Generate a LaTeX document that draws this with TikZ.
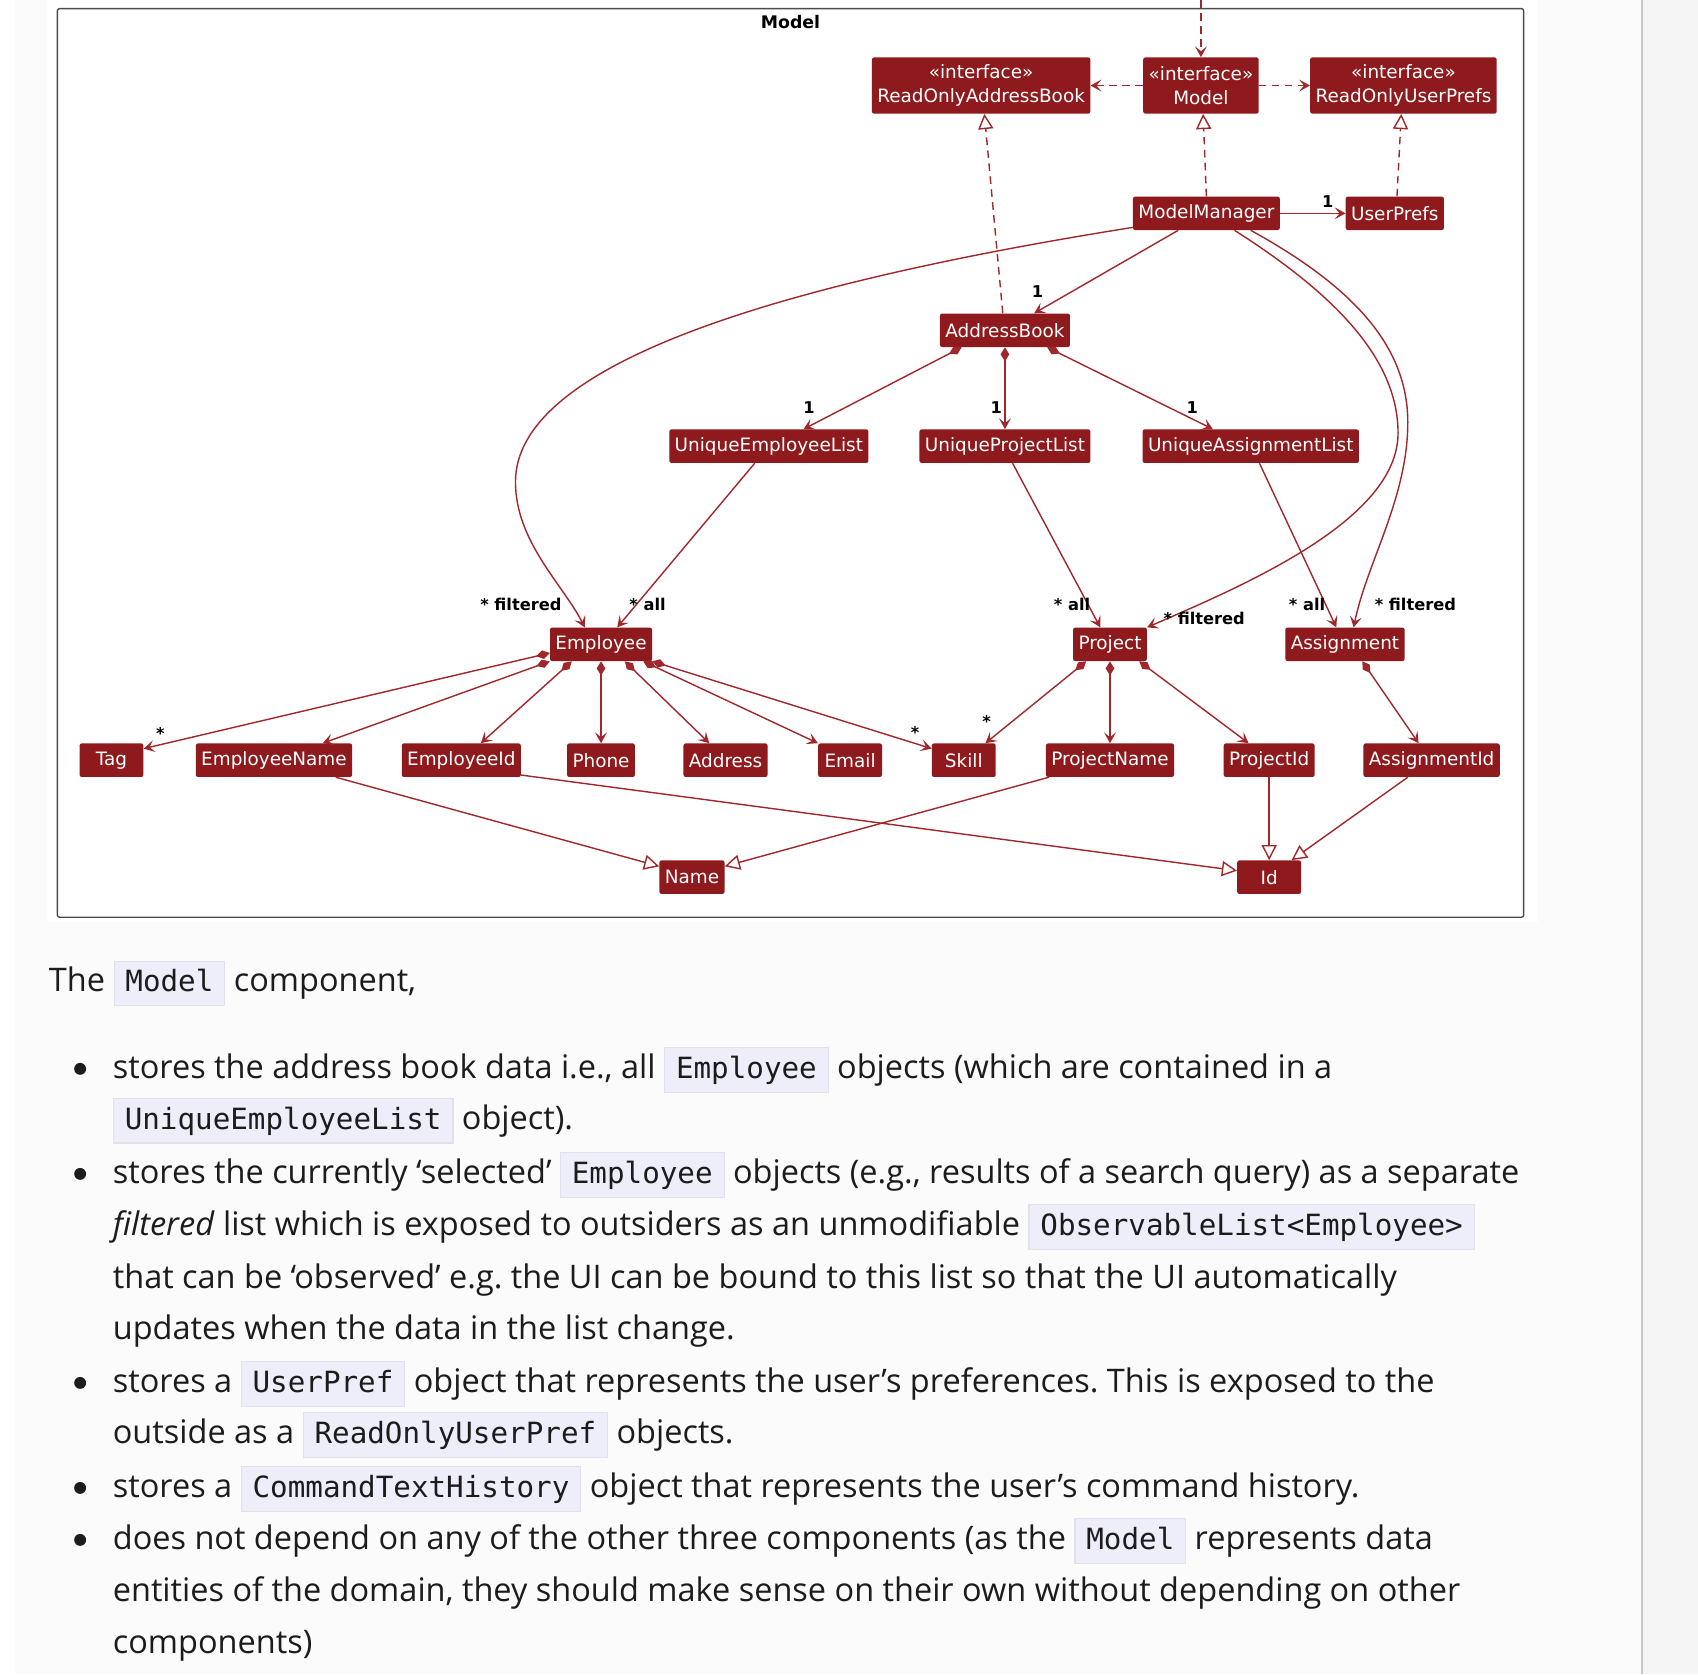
\documentclass[tikz,border=0pt]{standalone}
\usepackage{fontspec}
\setmainfont{Open Sans}
\setmonofont{DejaVu Sans Mono}
\newfontfamily\umlfont{DejaVu Sans}
\usetikzlibrary{arrows.meta,positioning}
\usepackage{xcolor}
\definecolor{umlred}{HTML}{8F1A1D}
\definecolor{umlline}{HTML}{A0282C}
\definecolor{codebg}{HTML}{EEEEFA}
\definecolor{codeframe}{HTML}{E1E1EC}
\definecolor{pagebg}{HTML}{FBFBFB}
\definecolor{sidebg}{HTML}{F5F5F5}
\definecolor{bodytext}{HTML}{1C1C1C}
\newcommand{\inl}[1]{{\setlength{\fboxsep}{0pt}\setlength{\fboxrule}{1pt}%
  \fcolorbox{codeframe}{codebg}{\hspace{10pt}\rule[-12pt]{0pt}{40pt}\ttfamily\fontsize{27}{32}\selectfont #1\hspace{10pt}}}}

\begin{document}
\begin{tikzpicture}[x=1pt,y=-1pt,
  cls/.style={fill=umlred,text=white,font=\umlfont\fontsize{17}{22}\selectfont,
    rounded corners=2pt,inner xsep=5pt,inner ysep=0pt,minimum height=31pt,minimum width=59pt},
  iface/.style={cls,align=center,minimum height=52pt},
  lbl/.style={font=\umlfont\bfseries\fontsize{15}{18}\selectfont,inner sep=0pt},
  assoc/.style={draw=umlline,line width=1.3pt,-{Stealth[length=10pt,width=11pt,inset=4.5pt]}},
  comp/.style={assoc,{Diamond[length=13pt,width=8pt]}-{Stealth[length=10pt,width=11pt,inset=4.5pt]}},
  dep/.style={assoc,dash pattern=on 7pt off 5pt},
  real/.style={draw=umlline,line width=1.3pt,dash pattern=on 7pt off 5pt,-{Triangle[open,length=14pt,width=14pt]}},
  gen/.style={draw=umlline,line width=1.3pt,-{Triangle[open,length=14pt,width=14pt]}},
  txt/.style={anchor=base west,inner sep=0pt,text=bodytext,font=\fontsize{30}{36}\selectfont},
  dot/.style={circle,fill=bodytext,inner sep=0pt,minimum size=11pt}]
\useasboundingbox (0,0) rectangle (1568,1546);
\fill[white] (0,0) rectangle (1568,1546);
\fill[pagebg] (14,0) rectangle (1516,1546);
\fill[sidebg] (1516,0) rectangle (1568,1546);
\draw[black!22,line width=1.5pt] (1516,0) -- (1516,1546);
\fill[white] (43,0) rectangle (1420,851);
\draw[black!70,line width=1.3pt,rounded corners=2pt] (53,8) rectangle (1407,847);
\node[font=\umlfont\bfseries\fontsize{16}{19}\selectfont] (frame) at (730,20) {Model};

% interfaces
\node[iface] (roab) at (906,79) {«interface»\\ReadOnlyAddressBook};
\node[iface] (model) at (1109,79) {«interface»\\Model};
\node[iface] (rour) at (1296,79) {«interface»\\ReadOnlyUserPrefs};
\coordinate (ext) at (1109,0);

% classes
\node[cls] (mgr) at (1114,197) {ModelManager};
\node[cls] (prefs) at (1288,197) {UserPrefs};
\node[cls] (ab) at (928,305) {AddressBook};
\node[cls] (uel) at (710,412) {UniqueEmployeeList};
\node[cls] (upl) at (928,412) {UniqueProjectList};
\node[cls] (ual) at (1155,412) {UniqueAssignmentList};
\node[cls] (emp) at (555,595) {Employee};
\node[cls] (proj) at (1025,595) {Project};
\node[cls] (asg) at (1242,595) {Assignment};
\node[cls] (tag) at (103,702) {Tag};
\node[cls] (ename) at (253,702) {EmployeeName};
\node[cls] (eid) at (426,702) {EmployeeId};
\node[cls] (phone) at (555,702) {Phone};
\node[cls] (addr) at (670,702) {Address};
\node[cls] (email) at (785,702) {Email};
\node[cls] (skill) at (890,702) {Skill};
\node[cls] (pname) at (1025,702) {ProjectName};
\node[cls] (pid) at (1172,702) {ProjectId};
\node[cls] (aid) at (1322,702) {AssignmentId};
\node[cls] (name) at (639,810) {Name};
\node[cls] (id) at (1172,810) {Id};

% interface links
\draw[dep] (ext) -- (model);
\draw[dep] (model) -- (roab);
\draw[dep] (model) -- (rour);
\draw[real] (mgr.north) -- ([xshift=2]model.south);
\draw[real] ([xshift=2]prefs.north) -- ([xshift=-2]rour.south);
\draw[real] ([xshift=-2]ab.north) -- ([xshift=3]roab.south);

% ModelManager
\draw[assoc] (mgr) -- (prefs);
\draw[assoc] ([xshift=-26]mgr.south) -- ([xshift=27]ab.north);
\draw[assoc] ([yshift=-13]mgr.west) .. controls (700,265) and (476,340) .. (476,445)
  .. controls (476,500) and (520,540) .. ([xshift=-15]emp.north);
\draw[assoc] ([xshift=26]mgr.south) .. controls (1230,270) and (1291,330) .. (1291,400)
  .. controls (1291,480) and (1150,540) .. (proj.north east);
\draw[assoc] ([xshift=41]mgr.south) .. controls (1250,265) and (1300,320) .. (1300,390)
  .. controls (1300,460) and (1262,520) .. ([xshift=8]asg.north);

% AddressBook
\draw[comp] ([xshift=-40]ab.south) -- ([xshift=32]uel.north);
\draw[comp] (ab.south) -- (upl.north);
\draw[comp] ([xshift=39]ab.south) -- ([xshift=-35]ual.north);
\draw[assoc] ([xshift=-13]uel.south) -- ([xshift=15]emp.north);
\draw[assoc] ([xshift=7]upl.south) -- ([xshift=-9]proj.north);
\draw[assoc] ([xshift=8]ual.south) -- ([xshift=-8]asg.north);

% Employee, Project, Assignment
\draw[comp] ([yshift=-8]emp.west) -- ([yshift=-5]tag.north east);
\draw[comp] (emp.south west) -- ([xshift=45]ename.north);
\draw[comp] ([xshift=-27]emp.south) -- ([xshift=18]eid.north);
\draw[comp] (emp.south) -- (phone.north);
\draw[comp] ([xshift=22]emp.south) -- ([xshift=-15]addr.north);
\draw[comp] ([xshift=39]emp.south) -- (email.north west);
\draw[comp] (emp.south east) -- ([yshift=-5]skill.north west);
\draw[comp] ([xshift=-22]proj.south) -- ([xshift=20]skill.north);
\draw[comp] (proj.south) -- (pname.north);
\draw[comp] ([xshift=27]proj.south) -- ([xshift=-19]pid.north);
\draw[comp] ([xshift=16]asg.south) -- ([xshift=-12]aid.north);

% Name, Id
\draw[gen] ([xshift=57]ename.south) -- ([yshift=10]name.west);
\draw[gen] ([xshift=3]pname.south west) -- ([yshift=10]name.east);
\draw[gen] ([yshift=2]eid.south east) -- ([yshift=6]id.west);
\draw[gen] (pid.south) -- (id.north);
\draw[gen] ([xshift=-22]aid.south) -- ([xshift=-9]id.north east);

% multiplicities
\node[lbl] (m1) at (1226,186) {1};
\node[lbl] (m2) at (958,269) {1};
\node[lbl] (m3) at (747,376) {1};
\node[lbl] (m4) at (920,376) {1};
\node[lbl] (m5) at (1101,376) {1};
\node[lbl] (m6) at (481,558) {* filtered};
\node[lbl] (m7) at (598,558) {* all};
\node[lbl] (m8) at (990,558) {* all};
\node[lbl] (m9) at (1112,571) {* filtered};
\node[lbl] (m10) at (1207,558) {* all};
\node[lbl] (m11) at (1307,558) {* filtered};
\node[lbl] (m12) at (148,677) {*};
\node[lbl] (m13) at (845,676) {*};
\node[lbl] (m14) at (911,666) {*};

% text below
\frenchspacing
\node[txt] (t0) at (45,916) {The \inl{Model} component,};
\node[dot] (d1) at (74,987) {};
\node[txt] (b1a) at (104,996) {stores the address book data i.e., all \inl{Employee} objects (which are contained in a};
\node[txt] (b1b) at (104,1043) {\inl{UniqueEmployeeList} object).};
\node[dot] (d2) at (74,1084) {};
\node[txt] (b2a) at (104,1093) {stores the currently ‘selected’ \inl{Employee} objects (e.g., results of a search query) as a separate};
\node[txt] (b2b) at (104,1141) {\textit{filtered} list which is exposed to outsiders as an unmodifiable \inl{ObservableList<Employee>}};
\node[txt] (b2c) at (104,1190) {that can be ‘observed’ e.g. the UI can be bound to this list so that the UI automatically};
\node[txt] (b2d) at (104,1237) {updates when the data in the list change.};
\node[dot] (d3) at (74,1277) {};
\node[txt] (b3a) at (104,1286) {stores a \inl{UserPref} object that represents the user’s preferences. This is exposed to the};
\node[txt] (b3b) at (104,1333) {outside as a \inl{ReadOnlyUserPref} objects.};
\node[dot] (d4) at (74,1374) {};
\node[txt] (b4a) at (104,1383) {stores a \inl{CommandTextHistory} object that represents the user’s command history.};
\node[dot] (d5) at (74,1422) {};
\node[txt] (b5a) at (104,1431) {does not depend on any of the other three components (as the \inl{Model} represents data};
\node[txt] (b5b) at (104,1479) {entities of the domain, they should make sense on their own without depending on other};
\node[txt] (b5c) at (104,1527) {components)};
\end{tikzpicture}
\end{document}
